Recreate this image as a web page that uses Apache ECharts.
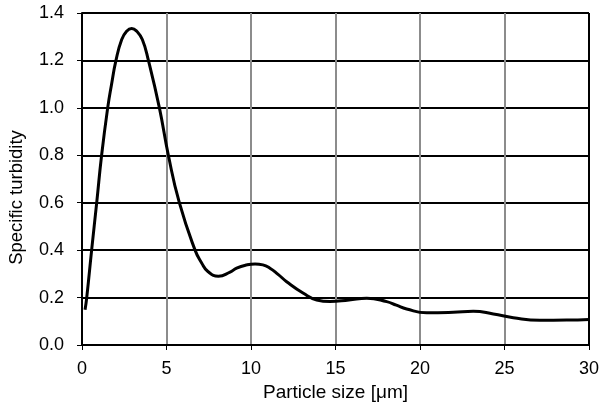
<!DOCTYPE html>
<html>
<head>
<meta charset="utf-8">
<script src="https://cdn.jsdelivr.net/npm/echarts@6/dist/echarts.min.js"></script>
<style>html,body{margin:0;padding:0;background:#fff}#c{width:600px;height:404px}</style>
</head>
<body>
<div id="c"></div>
<script>
var particleSize = [0.18, 0.28, 0.57, 0.87, 1.16, 1.52, 1.75, 2.01, 2.35, 2.64, 2.94, 3.24, 3.57, 3.93, 4.58, 5.11, 5.76, 6.69, 7.08, 7.45, 8.07, 8.76, 9.15, 9.7, 10.24, 10.7, 11.12, 11.6, 12.11, 13.1, 13.89, 14.67, 15.8, 16.85, 18.03, 18.6, 19.21, 20.4, 21.97, 23.15, 24.34, 25.52, 27.1, 28.68, 30.0];
var turbidity    = [0.149, 0.20, 0.40, 0.60, 0.80, 1.00, 1.10, 1.20, 1.288, 1.323, 1.335, 1.323, 1.288, 1.20, 1.00, 0.80, 0.60, 0.40, 0.346, 0.31, 0.29, 0.307, 0.324, 0.337, 0.342, 0.338, 0.324, 0.298, 0.267, 0.218, 0.19, 0.183, 0.19, 0.197, 0.183, 0.168, 0.152, 0.136, 0.138, 0.142, 0.131, 0.115, 0.104, 0.105, 0.108];
var xTicks = [0, 5, 10, 15, 20, 25, 30];
var yTicks = [0, 0.2, 0.4, 0.6, 0.8, 1.0, 1.2, 1.4];
var xTitle = 'Particle size [μm]';
var yTitle = 'Specific turbidity';

var pts = particleSize.map(function (x, i) { return [x, turbidity[i]]; });
var font = 'Liberation Sans, Arial, sans-serif';
var chart = echarts.init(document.getElementById('c'), null, {renderer: 'canvas'});
chart.setOption({
  animation: false,
  backgroundColor: '#fff',
  grid: {left: 82, right: 11, top: 13, bottom: 59, show: false, containLabel: false, outerBoundsMode: 'none'},
  xAxis: {
    type: 'value', min: xTicks[0], max: xTicks[xTicks.length - 1], interval: 5,
    name: xTitle, nameLocation: 'middle', nameGap: 34,
    nameTextStyle: {fontFamily: font, fontSize: 19, color: '#000'},
    axisLine: {show: true, onZero: false, lineStyle: {color: '#000', width: 2}},
    axisTick: {show: true, length: 5, lineStyle: {color: '#000', width: 1}},
    axisLabel: {fontFamily: font, fontSize: 18, color: '#000', margin: 15},
    splitLine: {show: true, lineStyle: {color: ['#000', '#8c8c8c', '#8c8c8c', '#8c8c8c', '#8c8c8c', '#8c8c8c', '#000'], width: 2}}
  },
  yAxis: [{
    type: 'value', min: yTicks[0], max: yTicks[yTicks.length - 1], interval: 0.2,
    name: yTitle, nameLocation: 'middle', nameGap: 56,
    nameTextStyle: {fontFamily: font, fontSize: 18.5, color: '#000', padding: [0, 37, 0, 0]},
    axisLine: {show: true, lineStyle: {color: '#000', width: 2}},
    axisTick: {show: true, length: 5, lineStyle: {color: '#000', width: 1}},
    axisLabel: {fontFamily: font, fontSize: 18, color: '#000', margin: 18,
      formatter: function (v) { return v.toFixed(1); }},
    splitLine: {show: true, lineStyle: {color: '#000', width: 2}}
  }],
  series: [{
    type: 'line', data: pts, smooth: 0.5, showSymbol: false,
    lineStyle: {color: '#000', width: 3}
  }]
});
</script>
</body>
</html>
